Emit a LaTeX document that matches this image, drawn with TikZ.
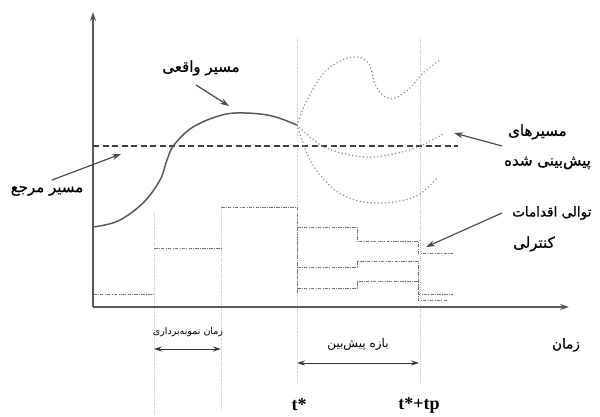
\documentclass[tikz,border=0pt]{standalone}
\usepackage{fontspec}
\setmainfont{Liberation Serif}
\newfontfamily\fa[Script=Arabic,FakeBold=0.8]{DejaVu Sans}
\newfontfamily\fasm[Script=Arabic]{DejaVu Sans}
\TeXXeTstate=1
\usetikzlibrary{arrows.meta}
\begin{document}
\begin{tikzpicture}[x=1pt,y=-1pt,
  axis/.style={draw=black!65, line width=1.3pt, -{Stealth[length=9pt,width=6pt]}},
  guide/.style={draw=black!25, line width=0.7pt, dash pattern=on 1pt off 1.2pt},
  ctrl/.style={draw=black!55, line width=0.9pt, dash pattern=on 3.5pt off 1.3pt on 0.8pt off 1.3pt},
  pred/.style={draw=black!45, line width=1.7pt, line cap=round, dash pattern=on 0.01pt off 3.6pt},
  refl/.style={draw=black!75, line width=1.4pt, dash pattern=on 6pt off 3.5pt},
  realc/.style={draw=black!65, line width=1.5pt},
  ptr/.style={draw=black!70, line width=1.2pt, -{Stealth[length=9pt,width=6pt]}},
  span/.style={draw=black!80, line width=1pt, {Stealth[length=8pt,width=5pt]}-{Stealth[length=8pt,width=5pt]}},
  lbl/.style={font=\fa\fontsize{15}{18}\selectfont, inner sep=1pt},
  small/.style={font=\fasm\fontsize{9.5}{11}\selectfont, inner sep=1pt},
  tl/.style={font=\bfseries\fontsize{18}{20}\selectfont, inner sep=1pt}
]
\useasboundingbox (0,0) rectangle (600,417);
% guides
\coordinate (g1a) at (297,38); \coordinate (g1b) at (297,385);
\coordinate (g2a) at (420,38); \coordinate (g2b) at (420,385);
\coordinate (g3a) at (154,213); \coordinate (g3b) at (154,414);
\coordinate (g4a) at (221,207); \coordinate (g4b) at (221,410);
\draw[guide] (g1a) -- (g1b);
\draw[guide] (g2a) -- (g2b);
\draw[guide] (g3a) -- (g3b);
\draw[guide] (g4a) -- (g4b);
% axes
\coordinate (O) at (93,307);
\coordinate (ytop) at (93,12);
\coordinate (xend) at (569,307);
\draw[axis] (O) -- (ytop);
\draw[axis] (O) -- (xend);
% reference
\coordinate (r0) at (93,146); \coordinate (r1) at (458,146);
\draw[refl] (r0) -- (r1);
% real trajectory
\coordinate (J) at (297,125);
\draw[realc] plot[smooth, tension=0.6] coordinates {(93,227) (118,221) (143,203) (160,180) (167,160) (174,145) (193,127) (222,115) (245,113) (272,116) (297,125)};
% predicted
\draw[pred] plot[smooth, tension=0.6] coordinates {(297,125) (306,102) (323,74) (340,61) (357,57) (369,64) (375,84) (384,96) (395,98) (410,88) (423,73) (440,60)};
\draw[pred] plot[smooth, tension=0.6] coordinates {(297,125) (322,146) (350,155) (372,157) (398,153) (420,146) (445,133)};
\draw[pred] plot[smooth, tension=0.6] coordinates {(297,125) (310,160) (330,186) (352,199) (375,203) (400,201) (420,194) (437,178)};
% control sequences
\draw[ctrl] (93,294) -- (154,294) (154,248) -- (221,248) (221,207) -- (297,207) -- (297,293);
\draw[ctrl] (297,227) -- (357,227) -- (357,241) -- (418,241) -- (418,253) -- (453,253);
\draw[ctrl] (297,267) -- (357,267) -- (357,261) -- (418,261) -- (418,294) -- (453,294);
\draw[ctrl] (297,288) -- (357,288) -- (357,281) -- (418,281) -- (418,300) -- (447,300);
% labels
\node[lbl] (real) at (201,68) {\beginR مسیر واقعی\endR};
\coordinate (realp) at (229,106);
\draw[ptr] (196,85) coordinate (reals) -- (realp);
\node[lbl] (ref) at (47,191) {\beginR مسیر مرجع\endR};
\coordinate (refp) at (121,154);
\draw[ptr] (52,180) coordinate (refs) -- (refp);
\node[lbl, anchor=west] (pr1) at (507,132) {\beginR مسیرهای\endR};
\node[lbl, anchor=west] (pr2) at (503,163) {\beginR پیش‌بینی شده\endR};
\coordinate (prp) at (454,133);
\draw[ptr] (502,146) coordinate (prs) -- (prp);
\node[lbl, anchor=west, font=\fa\fontsize{13.5}{16}\selectfont] (ct1) at (511,213) {\beginR توالی اقدامات\endR};
\node[lbl, anchor=west] (ct2) at (512,244) {\beginR کنترلی\endR};
\coordinate (ctp) at (426,247);
\draw[ptr] (502,213) coordinate (cts) -- (ctp);
\node[lbl, font=\fa\fontsize{13.5}{16}\selectfont] (time) at (566,345) {\beginR زمان\endR};
\node[small] (ts) at (188,332) {\beginR زمان نمونه‌برداری\endR};
\coordinate (s1) at (154,349); \coordinate (s2) at (221,349);
\draw[span] (s1) -- (s2);
\node[small, font=\fasm\fontsize{12}{14}\selectfont] (ph) at (358,344) {\beginR بازه پیش‌بین\endR};
\coordinate (p1) at (297,363); \coordinate (p2) at (419,363);
\draw[span] (p1) -- (p2);
\node[tl] (tst) at (299,405) {t*};
\node[tl] (tstp) at (419,405) {t*+tp};
\end{tikzpicture}
\end{document}
